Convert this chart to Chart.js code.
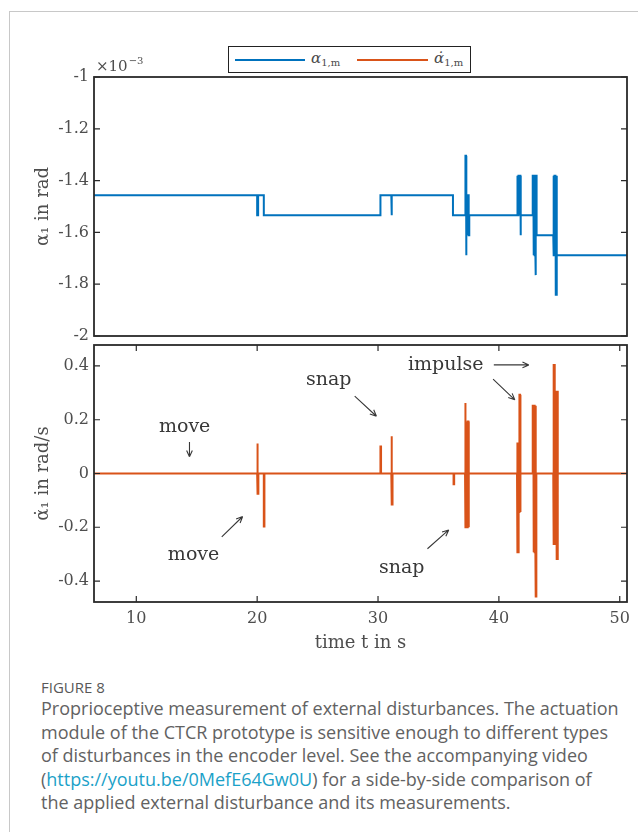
<!DOCTYPE html>
<html>
<head>
<meta charset="utf-8">
<script src="https://cdn.jsdelivr.net/npm/chart.js@4.4.1/dist/chart.umd.min.js"></script>
<style>
  body { margin: 0; background: #fff; width: 638px; height: 832px; overflow: hidden; position: relative; }
  #frame { position: absolute; left: 9px; top: 11px; width: 700px; height: 900px; border-left: 1px solid #c8c8c8; border-top: 1px solid #c8c8c8; }
  canvas { position: absolute; left: 0; }
  #topChart { top: 0; }
  #bottomChart { top: 340px; }
  .legend { position: absolute; left: 228px; top: 46px; width: 241px; height: 25px; border: 1.5px solid #222; background: #fff;
            font-family: "DejaVu Serif", serif; color: #4a4a4a; font-size: 15px; }
  .legend .ln { position: absolute; top: 12px; height: 2px; }
  .legend .lb { position: absolute; top: 2px; }
  .legend sub { font-size: 10px; font-style: normal; vertical-align: -3px; }
  .caption { position: absolute; left: 41px; top: 677px; width: 600px; white-space: nowrap; font-family: "Open Sans", sans-serif; color: #626262; }
  .caption .fig { font-size: 15px; line-height: 20px; color: #585858; }
  .caption p { margin: 0; font-size: 18px; line-height: 23.5px; }
  .caption a { color: #1ba1c8; text-decoration: none; }
</style>
</head>
<body>
<div id="frame"></div>
<canvas id="topChart" width="638" height="340"></canvas>
<canvas id="bottomChart" width="638" height="320"></canvas>
<div class="legend">
  <span class="ln" style="left:6px;width:70px;background:#0072BD"></span>
  <span class="lb" style="left:82px"><i>α</i><sub>1,m</sub></span>
  <span class="ln" style="left:128px;width:71px;background:#D95319"></span>
  <span class="lb" style="left:205px"><i>α̇</i><sub>1,m</sub></span>
</div>
<div class="caption">
  <div class="fig">FIGURE 8</div>
  <p>Proprioceptive measurement of external disturbances. The actuation<br>
  module of the CTCR prototype is sensitive enough to different types<br>
  of disturbances in the encoder level. See the accompanying video<br>
  (<a href="https://youtu.be/0MefE64Gw0U">https://youtu.be/0MefE64Gw0U</a>) for a side-by-side comparison of<br>
  the applied external disturbance and its measurements.</p>
</div>
<script>
// time axis
const timeRange = [6.5, 50.6];
const timeTicks = [10, 20, 30, 40, 50];

// measured angle alpha_1,m in 1e-3 rad, [t, value]
const alphaTicks = [-2, -1.8, -1.6, -1.4, -1.2, -1];
const alphaSeries = [
  [6.5, -1.457], [20.0, -1.457], [20.0, -1.534], [20.08, -1.534], [20.08, -1.457],
  [20.55, -1.457], [20.55, -1.534],
  [30.2, -1.534], [30.2, -1.457],
  [31.1, -1.457], [31.1, -1.534], [31.15, -1.534], [31.15, -1.457],
  [36.2, -1.457], [36.2, -1.534],
  [37.2, -1.534], [37.2, -1.457], [37.25, -1.457], [37.25, -1.304], [37.28, -1.304], [37.28, -1.688],
  [37.32, -1.688], [37.32, -1.457], [37.38, -1.457], [37.38, -1.611], [37.44, -1.611], [37.44, -1.457],
  [37.5, -1.457], [37.5, -1.611], [37.55, -1.611], [37.55, -1.534],
  [41.5, -1.534], [41.5, -1.381], [41.56, -1.381], [41.56, -1.534], [41.62, -1.534], [41.62, -1.381],
  [41.68, -1.381], [41.68, -1.534], [41.74, -1.534], [41.74, -1.381], [41.78, -1.381], [41.78, -1.611],
  [41.82, -1.611], [41.82, -1.534],
  [42.8, -1.534], [42.8, -1.381], [42.85, -1.381], [42.85, -1.688], [42.9, -1.688], [42.9, -1.381],
  [42.96, -1.381], [42.96, -1.688], [43.02, -1.688], [43.02, -1.765], [43.06, -1.765], [43.06, -1.381],
  [43.12, -1.381], [43.12, -1.611],
  [44.5, -1.611], [44.5, -1.381], [44.55, -1.381], [44.55, -1.688], [44.6, -1.688], [44.6, -1.381],
  [44.68, -1.381], [44.68, -1.688], [44.72, -1.688], [44.72, -1.841], [44.76, -1.841], [44.76, -1.381],
  [44.8, -1.381], [44.8, -1.688],
  [50.6, -1.688]
];

// angular rate in rad/s, [t, value]
const rateTicks = [-0.4, -0.2, 0, 0.2, 0.4];
const rateSeries = [
  [6.5, 0], [20.0, 0], [20.0, 0.112], [20.05, 0.112], [20.05, -0.075], [20.1, -0.075], [20.1, 0],
  [20.55, 0], [20.55, -0.197], [20.6, -0.197], [20.6, 0],
  [30.2, 0], [30.2, 0.1], [30.25, 0.1], [30.25, 0],
  [31.1, 0], [31.1, 0.139], [31.15, 0.139], [31.15, -0.115], [31.2, -0.115], [31.2, 0],
  [36.25, 0], [36.25, -0.04], [36.3, -0.04], [36.3, 0],
  [37.2, 0], [37.2, 0.262], [37.25, 0.262], [37.25, -0.2], [37.3, -0.2], [37.3, 0.193], [37.36, 0.193],
  [37.36, -0.2], [37.42, -0.2], [37.42, 0.193], [37.48, 0.193], [37.48, -0.2], [37.52, -0.2], [37.52, 0],
  [41.5, 0], [41.5, 0.115], [41.55, 0.115], [41.55, -0.293], [41.6, -0.293], [41.6, 0.115], [41.65, 0.115],
  [41.65, -0.143], [41.7, -0.143], [41.7, 0.293], [41.75, 0.293], [41.75, -0.143], [41.8, -0.143], [41.8, 0],
  [42.8, 0], [42.8, 0.252], [42.85, 0.252], [42.85, -0.293], [42.9, -0.293], [42.9, 0.252], [42.96, 0.252],
  [42.96, -0.293], [43.02, -0.293], [43.02, 0.252], [43.06, 0.252], [43.06, -0.458], [43.1, -0.458], [43.1, 0],
  [44.5, 0], [44.5, 0.407], [44.55, 0.407], [44.55, -0.262], [44.6, -0.262], [44.6, 0.407], [44.63, 0.407], [44.63, 0],
  [44.75, 0], [44.75, 0.308], [44.8, 0.308], [44.8, -0.318], [44.85, -0.318], [44.85, 0.308], [44.88, 0.308], [44.88, 0],
  [50.6, 0]
];

// annotation labels for the lower panel (anchored in data coordinates)
const noteLabels = ['move', 'move', 'snap', 'snap', 'impulse'];
const noteAnchors = [[14.0, 0.173], [14.74, -0.302], [25.92, 0.349], [31.96, -0.35], [35.6, 0.404]];
const noteArrows = [
  [14.4, 0.117, 14.4, 0.062],
  [17.07, -0.236, 18.8, -0.16],
  [28.07, 0.288, 29.87, 0.213],
  [34.09, -0.28, 35.85, -0.21],
  [39.58, 0.404, 42.48, 0.404],
  [39.52, 0.351, 41.32, 0.274]
];

const BLUE = '#0072BD';
const ORANGE = '#D95319';
const SERIF = '"DejaVu Serif", "Liberation Serif", serif';
const TEXT = '#4e4e4e';

// frame and inward tick marks, like the matlab box
const frameTicks = {
  id: 'frameTicks',
  afterDraw(chart, args, opts) {
    const { ctx, chartArea: a, scales } = chart;
    ctx.save();
    ctx.strokeStyle = '#2a2a2a';
    ctx.lineWidth = 1.2;
    ctx.beginPath();
    scales.y.ticks.forEach(t => {
      const y = scales.y.getPixelForValue(t.value);
      ctx.moveTo(a.left, y); ctx.lineTo(a.left + 6, y);
      ctx.moveTo(a.right, y); ctx.lineTo(a.right - 6, y);
    });
    if (opts.xTicks) {
      scales.x.ticks.forEach(t => {
        const x = scales.x.getPixelForValue(t.value);
        ctx.moveTo(x, a.top); ctx.lineTo(x, a.top + 6);
        ctx.moveTo(x, a.bottom); ctx.lineTo(x, a.bottom - 6);
      });
    }
    ctx.stroke();
    ctx.lineWidth = 1.8;
    ctx.strokeRect(a.left, a.top, a.right - a.left, a.bottom - a.top);
    ctx.restore();
  }
};

const expLabel = {
  id: 'expLabel',
  afterDraw(chart) {
    const { ctx, chartArea: a } = chart;
    ctx.save();
    ctx.fillStyle = TEXT;
    ctx.textBaseline = 'alphabetic';
    ctx.font = '15px ' + SERIF;
    ctx.fillText('×10', a.left + 2, a.top - 6);
    const w = ctx.measureText('×10').width;
    ctx.font = '10px ' + SERIF;
    ctx.fillText('−3', a.left + 3 + w, a.top - 13);
    ctx.restore();
  }
};

function arrowHead(ctx, x0, y0, x1, y1) {
  const ang = Math.atan2(y1 - y0, x1 - x0);
  const len = 7, spread = 0.42;
  ctx.moveTo(x1, y1);
  ctx.lineTo(x1 - len * Math.cos(ang - spread), y1 - len * Math.sin(ang - spread));
  ctx.moveTo(x1, y1);
  ctx.lineTo(x1 - len * Math.cos(ang + spread), y1 - len * Math.sin(ang + spread));
}

const notes = {
  id: 'notes',
  afterDatasetsDraw(chart) {
    const { ctx, scales: { x, y } } = chart;
    ctx.save();
    ctx.fillStyle = '#383838';
    ctx.font = '19px ' + SERIF;
    ctx.textAlign = 'center';
    ctx.textBaseline = 'middle';
    noteLabels.forEach((txt, i) => {
      ctx.fillText(txt, x.getPixelForValue(noteAnchors[i][0]), y.getPixelForValue(noteAnchors[i][1]));
    });
    ctx.strokeStyle = '#383838';
    ctx.lineWidth = 1.1;
    ctx.beginPath();
    noteArrows.forEach(([t0, v0, t1, v1]) => {
      const x0 = x.getPixelForValue(t0), y0 = y.getPixelForValue(v0);
      const x1 = x.getPixelForValue(t1), y1 = y.getPixelForValue(v1);
      ctx.moveTo(x0, y0); ctx.lineTo(x1, y1);
      arrowHead(ctx, x0, y0, x1, y1);
    });
    ctx.stroke();
    ctx.restore();
  }
};

const toXY = s => s.map(([x, y]) => ({ x, y }));
const tickFont = { family: SERIF, size: 16 };
const titleFont = { family: SERIF, size: 18 };

// keep the plot box exactly where the layout padding puts it
const noEdgePadding = s => { s.paddingTop = 0; s.paddingBottom = 0; s.paddingLeft = 0; s.paddingRight = 0; };

function yAxis(min, max, ticks, title, titlePad) {
  return {
    min, max,
    afterFit: s => { s.width = 94; noEdgePadding(s); },
    afterBuildTicks: s => { s.ticks = ticks.map(v => ({ value: v })); },
    grid: { display: false, drawTicks: false },
    border: { display: false },
    ticks: { padding: 5, color: TEXT, font: tickFont, callback: v => String(+v.toFixed(2)) },
    title: { display: true, text: title, color: TEXT, font: titleFont, padding: { top: titlePad } }
  };
}

new Chart(document.getElementById('topChart'), {
  type: 'line',
  data: {
    datasets: [{ label: 'α1,m', data: toXY(alphaSeries), borderColor: BLUE, borderWidth: 2, pointRadius: 0, tension: 0 }]
  },
  options: {
    responsive: false,
    animation: false,
    layout: { padding: { top: 77, right: 11, bottom: 4, left: 0 } },
    plugins: { legend: { display: false }, tooltip: { enabled: false }, frameTicks: { xTicks: false } },
    scales: {
      x: { type: 'linear', min: timeRange[0], max: timeRange[1], display: false },
      y: yAxis(-2, -1, alphaTicks, 'α₁ in rad', 33)
    }
  },
  plugins: [frameTicks, expLabel]
});

new Chart(document.getElementById('bottomChart'), {
  type: 'line',
  data: {
    datasets: [{ label: 'α̇1,m', data: toXY(rateSeries), borderColor: ORANGE, borderWidth: 2, pointRadius: 0, tension: 0 }]
  },
  options: {
    responsive: false,
    animation: false,
    layout: { padding: { top: 5, right: 11, bottom: 4, left: 0 } },
    plugins: { legend: { display: false }, tooltip: { enabled: false }, frameTicks: { xTicks: true } },
    scales: {
      x: {
        type: 'linear', min: timeRange[0], max: timeRange[1],
        afterFit: s => { s.height = 54; noEdgePadding(s); },
        afterBuildTicks: s => { s.ticks = timeTicks.map(v => ({ value: v })); },
        grid: { display: false, drawTicks: false },
        border: { display: false },
        ticks: { padding: 7, color: TEXT, font: tickFont, maxRotation: 0 },
        title: { display: true, text: 'time t in s', color: TEXT, font: titleFont, padding: { bottom: 2 } }
      },
      y: yAxis(-0.478, 0.478, rateTicks, 'α̇₁ in rad/s', 33)
    }
  },
  plugins: [frameTicks, notes]
});
</script>
</body>
</html>
